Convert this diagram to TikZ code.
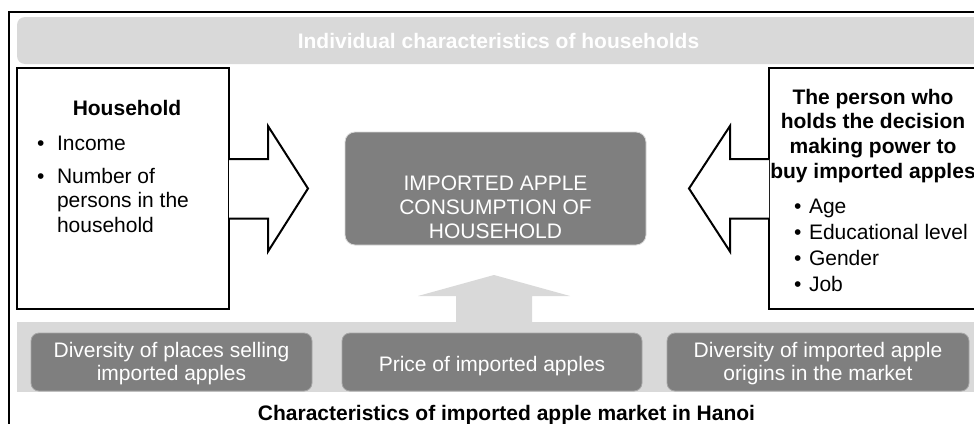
\documentclass[tikz,border=0pt]{standalone}
\usepackage{fontspec}
\setmainfont{Liberation Sans}
\usetikzlibrary{calc}
\definecolor{bandgray}{HTML}{D9D9D9}
\definecolor{darkgray}{HTML}{7F7F7F}
\definecolor{edgegray}{HTML}{A6A6A6}
\begin{document}
\begin{tikzpicture}[x=1pt,y=-1pt,
  every node/.style={inner sep=0pt,outer sep=0pt},
  txt/.style={font=\fontsize{21}{24.5}\selectfont},
  band/.style={fill=bandgray,draw=none},
  darkbox/.style={fill=darkgray,draw=edgegray,line width=0.8pt,rounded corners=8pt,anchor=north west},
  whitebox/.style={fill=white,draw=black,line width=2pt,anchor=north west},
  blockarrow/.style={fill=white,draw=black,line width=2pt,line join=miter},
  wtxt/.style={txt,text=white}]
\useasboundingbox (0,0) rectangle (974,423);
\clip (0,0) rectangle (974,423);
\fill[white] (0,0) rectangle (974,423);
% outer frame
\draw[line width=1.3pt] (9,12) rectangle (990,440);
% top band
\node[band,rounded corners=8pt,anchor=north west,minimum width=965pt,minimum height=47pt] (top) at (17,17) {};
\node[txt,text=white,anchor=base] (topT) at (498.5,48) {\bfseries Individual characteristics of households};
% bottom band
\node[band,anchor=north west,minimum width=970pt,minimum height=70pt] (bot) at (17,322) {};
% up arrow
\fill[bandgray] (456,322.5) -- (456,296) -- (418,296) -- (494,275) -- (570,296) -- (532,296) -- (532,322.5) -- cycle;
% center box
\node[darkbox,draw=bandgray,rounded corners=10pt,minimum width=301pt,minimum height=113pt] (cons) at (345,132) {};
\node[wtxt,anchor=base,align=center,font=\fontsize{21}{24}\selectfont] (consT) at (495.5,238) {IMPORTED APPLE\\CONSUMPTION OF\\HOUSEHOLD};
% left box
\node[whitebox,minimum width=212pt,minimum height=241pt] (hh) at (17,68) {};
\node[txt,anchor=base] (hhT) at (127,115) {\bfseries Household};
\node[txt,anchor=base west] (hhB1) at (37,150) {•};
\node[txt,anchor=base west] (hhI1) at (57,150) {Income};
\node[txt,anchor=base west] (hhB2) at (37,183) {•};
\node[txt,anchor=base west,align=left] (hhI2) at (57,232) {Number of\\persons in the\\household};
% right box
\node[whitebox,minimum width=210pt,minimum height=241pt] (dm) at (769,68) {};
\node[txt,anchor=base,align=center,font=\fontsize{21}{24.6}\selectfont] (dmT) at (873,178) {\bfseries The person who\\\bfseries holds the decision\\\bfseries making power to\\\bfseries buy imported apples};
\node[txt,anchor=base west,align=left,font=\fontsize{21}{25.8}\selectfont] (dmB) at (794,291) {•\\•\\•\\•};
\node[txt,anchor=base west,align=left,font=\fontsize{21}{25.8}\selectfont] (dmI) at (809,291) {Age\\Educational level\\Gender\\Job};
% block arrows
\draw[blockarrow] ($(hh.east)+(0,-29.5)$) -- ++(39,0) -- ++(0,-33) -- ($(hh.east)+(79,0)$) -- ($(hh.east)+(39,63)$) -- ++(0,-33) -- ++(-39,0);
\draw[blockarrow] ($(dm.west)+(0,-29.5)$) -- ++(-39,0) -- ++(0,-33) -- ($(dm.west)+(-80,0)$) -- ($(dm.west)+(-39,63)$) -- ++(0,-33) -- ++(39,0);
% bottom boxes
\node[darkbox,minimum width=281pt,minimum height=58pt] (m1) at (31,333) {};
\node[wtxt,anchor=base,align=center,font=\fontsize{21}{23}\selectfont] (m1T) at (171.5,380) {Diversity of places selling\\imported apples};
\node[darkbox,minimum width=300pt,minimum height=58pt] (m2) at (342,333) {};
\node[wtxt,anchor=base] (m2T) at (492,371) {Price of imported apples};
\node[darkbox,minimum width=302pt,minimum height=58pt] (m3) at (667,333) {};
\node[wtxt,anchor=base,align=center,font=\fontsize{21}{23}\selectfont] (m3T) at (818,380) {Diversity of imported apple\\origins in the market};
% bottom title
\node[txt,anchor=base] (botT) at (506.5,420) {\bfseries Characteristics of imported apple market in Hanoi};
\end{tikzpicture}
\end{document}
